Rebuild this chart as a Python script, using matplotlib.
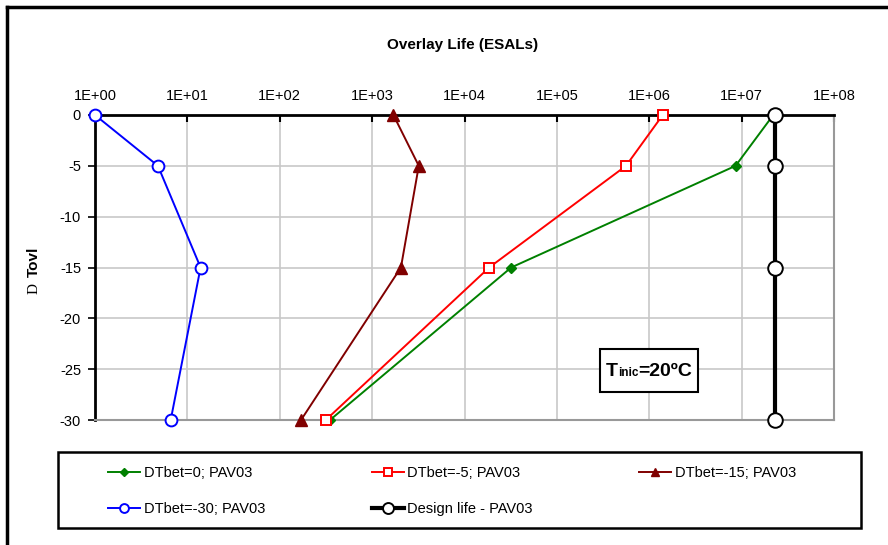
import numpy as np
import matplotlib
matplotlib.use("Agg")
import matplotlib.pyplot as plt
from matplotlib.lines import Line2D
from matplotlib.offsetbox import TextArea, HPacker, AnnotationBbox
from matplotlib.ticker import FixedLocator, FuncFormatter

plt.rcParams['font.family'] = ['Liberation Sans', 'DejaVu Sans']
plt.rcParams['axes.unicode_minus'] = False

# Temperature differential (y) and overlay life in ESALs (x)
dtovl = [0, -5, -15, -30]
life_dtbet_0 = [2.2e7, 8.6e6, 3.2e4, 350]
life_dtbet_m5 = [1.4e6, 5.6e5, 1.85e4, 315]
life_dtbet_m15 = [1700, 3200, 2050, 170]
life_dtbet_m30 = [1.0, 4.8, 13.9, 6.6]
design_life = [2.3e7, 2.3e7, 2.3e7, 2.3e7]

labels = ["DTbet=0; PAV03", "DTbet=-5; PAV03", "DTbet=-15; PAV03",
          "DTbet=-30; PAV03", "Design life - PAV03"]
decades = [1e0, 1e1, 1e2, 1e3, 1e4, 1e5, 1e6, 1e7, 1e8]

fig = plt.figure(figsize=(8.88, 5.45), dpi=100)
ax = fig.add_axes([95/888, 1 - 420/545, 739/888, 305/545])

l1, = ax.plot(life_dtbet_0, dtovl, color='#008000', lw=1.4, marker='D', ms=5,
              mfc='#008000', mec='#008000', clip_on=False, zorder=3)
l2, = ax.plot(life_dtbet_m5, dtovl, color='#ff0000', lw=1.4, marker='s', ms=7.5,
              mfc='white', mec='#ff0000', mew=1.4, clip_on=False, zorder=3)
l3, = ax.plot(life_dtbet_m15, dtovl, color='#800000', lw=1.4, marker='^', ms=8.5,
              mfc='#800000', mec='#800000', clip_on=False, zorder=3)
l4, = ax.plot(life_dtbet_m30, dtovl, color='#0000ff', lw=1.4, marker='o', ms=8.5,
              mfc='white', mec='#0000ff', mew=1.4, clip_on=False, zorder=3)
l5, = ax.plot(design_life, dtovl, color='black', lw=3, marker='o', ms=10.5,
              mfc='white', mec='black', mew=1.4, clip_on=False, zorder=4)

ax.set_xscale('log')
ax.set_xlim(1, 1e8)
ax.set_ylim(-30, 0)
ax.xaxis.set_major_locator(FixedLocator(decades))
ax.xaxis.set_minor_locator(FixedLocator([]))
ax.xaxis.set_major_formatter(FuncFormatter(lambda v, p: "1E+%02d" % round(np.log10(v))))
ax.set_yticks(np.arange(-30, 1, 5))
ax.xaxis.tick_top()
ax.tick_params(axis='x', direction='in', length=5, width=1.5, pad=9,
               labelsize=10.5, color='black')
ax.tick_params(axis='y', direction='out', length=5, width=1.2, pad=5,
               labelsize=10.5)
ax.grid(True, color='#c8c8c8', lw=1.2)
ax.set_axisbelow(True)
for s in ['top', 'left']:
    ax.spines[s].set_linewidth(2)
    ax.spines[s].set_color('black')
for s in ['right', 'bottom']:
    ax.spines[s].set_linewidth(1.5)
    ax.spines[s].set_color('#999999')

fig.text(463/888, 1 - 45/545, "Overlay Life (ESALs)", ha='center', va='center',
         fontsize=11, fontweight='bold')
fig.text(34/888, 1 - 289/545, "D", rotation=90, ha='center', va='center',
         fontsize=11, family='Liberation Serif')
fig.text(34/888, 1 - 262/545, "Tovl", rotation=90, ha='center', va='center',
         fontsize=11, fontweight='bold')

# Tinic annotation box
ax.add_patch(plt.Rectangle((0.683, 0.093), 0.133, 0.139, transform=ax.transAxes,
                           facecolor='white', edgecolor='black', lw=1.5, zorder=5))
parts = HPacker(children=[
    TextArea("T", textprops=dict(fontsize=14, fontweight='bold')),
    TextArea("inic", textprops=dict(fontsize=8.5, fontweight='bold')),
    TextArea("=20ºC", textprops=dict(fontsize=14, fontweight='bold')),
], align='baseline', pad=0, sep=0)
ab = AnnotationBbox(parts, (0.7495, 0.16), xycoords='axes fraction',
                    frameon=False, box_alignment=(0.5, 0.5))
ab.set_zorder(6)
ax.add_artist(ab)

# legend (column-major order so rows read l1 l2 l3 / l4 l5)
handles = [l1, l4, l2, l5, l3]
leg_labels = [labels[0], labels[3], labels[1], labels[4], labels[2]]
leg = fig.legend(handles, leg_labels, ncol=3, loc='center left',
                 bbox_to_anchor=(108/888, 1 - 491/545), frameon=False,
                 fontsize=10.5, handlelength=2.2, handletextpad=0.25,
                 columnspacing=7.3, labelspacing=1.55, borderpad=0,
                 borderaxespad=0, markerscale=0.75)
fig.patches.append(plt.Rectangle((58/888, 1 - 527.7/545), (861 - 58)/888, 76/545,
                                 transform=fig.transFigure, fill=False,
                                 edgecolor='black', lw=1.8))

# outer chart border (clipped at right and bottom)
fig.add_artist(Line2D([7/888, 1.01], [1 - 7/545, 1 - 7/545], color='black',
                      lw=2.5, transform=fig.transFigure))
fig.add_artist(Line2D([7/888, 7/888], [1 - 7/545, -0.01], color='black',
                      lw=2.5, transform=fig.transFigure))

fig.savefig("out.png", dpi=100)
